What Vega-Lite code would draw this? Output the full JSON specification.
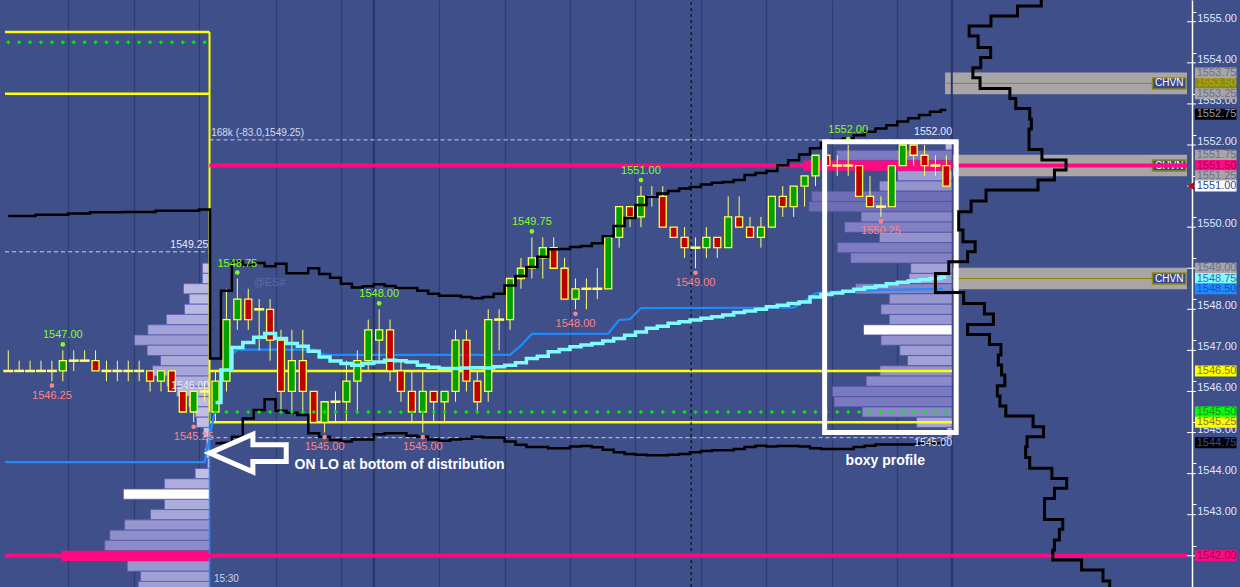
{
"$schema": "https://vega.github.io/schema/vega-lite/v6.json",
"width": 1192, "height": 587,
"autosize": {"type": "none"},
"padding": {"left": 0, "top": 0, "right": 48, "bottom": 0},
"background": "#3e4f8a",
"config": {"view": {"stroke": null, "fill": "#3e4f8a"}, "font": "Liberation Sans"},
"resolve": {"scale": {"color": "independent", "fill": "independent"}},
"datasets": {
"candles": [
{"i":0,"o":1546.5,"h":1547,"l":1546.5,"c":1546.5},
{"i":1,"o":1546.5,"h":1546.75,"l":1546.5,"c":1546.5},
{"i":2,"o":1546.5,"h":1546.75,"l":1546.5,"c":1546.5},
{"i":3,"o":1546.5,"h":1546.75,"l":1546.5,"c":1546.5},
{"i":4,"o":1546.5,"h":1546.75,"l":1546.25,"c":1546.5},
{"i":5,"o":1546.5,"h":1547,"l":1546.25,"c":1546.75},
{"i":6,"o":1546.75,"h":1547,"l":1546.5,"c":1546.75},
{"i":7,"o":1546.75,"h":1547,"l":1546.75,"c":1546.75},
{"i":8,"o":1546.75,"h":1547,"l":1546.5,"c":1546.5},
{"i":9,"o":1546.5,"h":1546.75,"l":1546.25,"c":1546.5},
{"i":10,"o":1546.5,"h":1546.75,"l":1546.25,"c":1546.5},
{"i":11,"o":1546.5,"h":1546.75,"l":1546.25,"c":1546.5},
{"i":12,"o":1546.5,"h":1546.75,"l":1546.25,"c":1546.5},
{"i":13,"o":1546.5,"h":1546.5,"l":1546,"c":1546.25},
{"i":14,"o":1546.25,"h":1546.5,"l":1546,"c":1546.5},
{"i":15,"o":1546.5,"h":1546.5,"l":1546,"c":1546},
{"i":16,"o":1546,"h":1546,"l":1545.5,"c":1545.5},
{"i":17,"o":1545.5,"h":1546,"l":1545.25,"c":1546},
{"i":18,"o":1546,"h":1546.25,"l":1545.75,"c":1546},
{"i":19,"o":1545.5,"h":1546.5,"l":1545.25,"c":1546.25},
{"i":20,"o":1546.25,"h":1548.5,"l":1546,"c":1547.75},
{"i":21,"o":1547.75,"h":1548.75,"l":1547.5,"c":1548.25},
{"i":22,"o":1548.25,"h":1548.5,"l":1547.5,"c":1547.75},
{"i":23,"o":1548,"h":1548.25,"l":1547,"c":1548},
{"i":24,"o":1548,"h":1548.25,"l":1546.75,"c":1547.25},
{"i":25,"o":1547.25,"h":1547.5,"l":1545.5,"c":1546},
{"i":26,"o":1546,"h":1547.5,"l":1545.5,"c":1546.75},
{"i":27,"o":1546.75,"h":1547.5,"l":1545.5,"c":1546},
{"i":28,"o":1546,"h":1546,"l":1545.25,"c":1545.25},
{"i":29,"o":1545.25,"h":1545.75,"l":1545,"c":1545.75},
{"i":30,"o":1545.75,"h":1546,"l":1545.25,"c":1545.75},
{"i":31,"o":1545.75,"h":1546.75,"l":1545.25,"c":1546.25},
{"i":32,"o":1546.25,"h":1547,"l":1545.5,"c":1546.75},
{"i":33,"o":1546.75,"h":1547.75,"l":1546.5,"c":1547.5},
{"i":34,"o":1547.25,"h":1548,"l":1546.75,"c":1547.5},
{"i":35,"o":1547.5,"h":1547.75,"l":1546.25,"c":1546.5},
{"i":36,"o":1546.5,"h":1546.75,"l":1545.75,"c":1546},
{"i":37,"o":1546,"h":1546.5,"l":1545.25,"c":1545.5},
{"i":38,"o":1545.5,"h":1546.5,"l":1545,"c":1546},
{"i":39,"o":1546,"h":1546,"l":1545.25,"c":1545.75},
{"i":40,"o":1545.75,"h":1546,"l":1545.25,"c":1546},
{"i":41,"o":1546,"h":1547.5,"l":1545.75,"c":1547.25},
{"i":42,"o":1547.25,"h":1547.5,"l":1546,"c":1546.25},
{"i":43,"o":1546.25,"h":1546.5,"l":1545.5,"c":1545.75},
{"i":44,"o":1546,"h":1548,"l":1545.75,"c":1547.75},
{"i":45,"o":1547.75,"h":1548,"l":1547,"c":1547.75},
{"i":46,"o":1547.75,"h":1548.75,"l":1547.5,"c":1548.75},
{"i":47,"o":1548.75,"h":1549.25,"l":1548.5,"c":1549},
{"i":48,"o":1549,"h":1549.75,"l":1548.75,"c":1549.25},
{"i":49,"o":1549.25,"h":1549.75,"l":1548.75,"c":1549.5},
{"i":50,"o":1549.5,"h":1549.75,"l":1549,"c":1549},
{"i":51,"o":1549,"h":1549.25,"l":1548.25,"c":1548.25},
{"i":52,"o":1548.25,"h":1548.75,"l":1548,"c":1548.5},
{"i":53,"o":1548.5,"h":1548.75,"l":1548,"c":1548.5},
{"i":54,"o":1548.5,"h":1549,"l":1548.25,"c":1548.5},
{"i":55,"o":1548.5,"h":1549.75,"l":1548.5,"c":1549.75},
{"i":56,"o":1549.75,"h":1550.5,"l":1549.5,"c":1550.5},
{"i":57,"o":1550.5,"h":1550.5,"l":1550,"c":1550.25},
{"i":58,"o":1550.25,"h":1551,"l":1550,"c":1550.75},
{"i":59,"o":1550.75,"h":1551,"l":1550.5,"c":1550.75},
{"i":60,"o":1550.75,"h":1551,"l":1550,"c":1550},
{"i":61,"o":1550,"h":1550,"l":1549.75,"c":1549.75},
{"i":62,"o":1549.75,"h":1550,"l":1549.25,"c":1549.5},
{"i":63,"o":1549.5,"h":1549.75,"l":1549,"c":1549.5},
{"i":64,"o":1549.5,"h":1550,"l":1549.25,"c":1549.75},
{"i":65,"o":1549.75,"h":1549.75,"l":1549.25,"c":1549.5},
{"i":66,"o":1549.5,"h":1550.75,"l":1549.5,"c":1550.25},
{"i":67,"o":1550.25,"h":1550.75,"l":1550,"c":1550},
{"i":68,"o":1550,"h":1550.25,"l":1549.75,"c":1549.75},
{"i":69,"o":1549.75,"h":1550.25,"l":1549.5,"c":1550},
{"i":70,"o":1550,"h":1550.75,"l":1550,"c":1550.75},
{"i":71,"o":1550.75,"h":1551,"l":1550.25,"c":1550.5},
{"i":72,"o":1550.5,"h":1551,"l":1550.25,"c":1551},
{"i":73,"o":1551,"h":1551.25,"l":1550.5,"c":1551.25},
{"i":74,"o":1551.25,"h":1551.75,"l":1551,"c":1551.75},
{"i":75,"o":1551.75,"h":1551.75,"l":1551.5,"c":1551.5},
{"i":76,"o":1551.5,"h":1551.75,"l":1551.25,"c":1551.5},
{"i":77,"o":1551.5,"h":1552,"l":1551.25,"c":1551.5},
{"i":78,"o":1551.5,"h":1551.5,"l":1550.75,"c":1550.75},
{"i":79,"o":1550.75,"h":1551.25,"l":1550.5,"c":1550.5},
{"i":80,"o":1550.5,"h":1550.75,"l":1550.25,"c":1550.5},
{"i":81,"o":1550.5,"h":1551.5,"l":1550.5,"c":1551.5},
{"i":82,"o":1551.5,"h":1552,"l":1551.5,"c":1552},
{"i":83,"o":1552,"h":1552,"l":1551.5,"c":1551.75},
{"i":84,"o":1551.75,"h":1552,"l":1551.25,"c":1551.5},
{"i":85,"o":1551.5,"h":1551.75,"l":1551.25,"c":1551.5},
{"i":86,"o":1551.5,"h":1551.75,"l":1551,"c":1551}
],
"chvn": [{"p":1553.5},{"p":1551.5},{"p":1548.75}],
"iticks": [{"p":1542},{"p":1543},{"p":1544},{"p":1545},{"p":1546},{"p":1547},{"p":1548},{"p":1549},{"p":1550},{"p":1551},{"p":1552},{"p":1553},{"p":1554},{"p":1555}],
"onprof": [{"p":1549,"i":17.79},{"p":1548.75,"i":17.79},{"p":1548.5,"i":16.06},{"p":1548.25,"i":16.58},{"p":1548,"i":16.15},{"p":1547.75,"i":14.49},{"p":1547.5,"i":12.79},{"p":1547.25,"i":11.58},{"p":1547,"i":12.73},{"p":1546.75,"i":13.95},{"p":1546.5,"i":13.22},{"p":1546.25,"i":14.52},{"p":1546,"i":15.43},{"p":1545.75,"i":16.52},{"p":1545.5,"i":17.13},{"p":1545.25,"i":17.25},{"p":1545,"i":17.88},{"p":1544.75,"i":18.15},{"p":1544.5,"i":18.04},{"p":1544.25,"i":18.25},{"p":1544,"i":17.13},{"p":1543.75,"i":14.31},{"p":1543.5,"i":10.55,"tag":"hi"},{"p":1543.25,"i":14.31},{"p":1543,"i":13.04},{"p":1542.75,"i":10.67},{"p":1542.5,"i":9.31},{"p":1542.25,"i":8.85},{"p":1542,"i":4.91,"tag":"poc"},{"p":1541.75,"i":10.91},{"p":1541.5,"i":12.13},{"p":1541.25,"i":11.91}],
"sprof": [{"p":1552,"i":85.9},{"p":1551.75,"i":75.91},{"p":1551.5,"i":72.88,"tag":"poc"},{"p":1551.25,"i":81.52},{"p":1551,"i":79.85},{"p":1550.75,"i":73.64},{"p":1550.5,"i":73.4},{"p":1550.25,"i":78.18},{"p":1550,"i":76.67},{"p":1549.75,"i":79.85},{"p":1549.5,"i":76},{"p":1549.25,"i":77.22},{"p":1549,"i":82.73},{"p":1548.75,"i":82.58},{"p":1548.5,"i":77.67},{"p":1548.25,"i":80.76},{"p":1548,"i":80},{"p":1547.75,"i":80.76},{"p":1547.5,"i":78.4,"tag":"hi"},{"p":1547.25,"i":80},{"p":1547,"i":81.73},{"p":1546.75,"i":82.43},{"p":1546.5,"i":79.91},{"p":1546.25,"i":78.64},{"p":1546,"i":75.55},{"p":1545.75,"i":75.7},{"p":1545.5,"i":78.27},{"p":1545.25,"i":83.27},{"p":1545,"i":86.06}],
"dash": [{"i":-0.3,"i2":18.45,"p":1549.4},{"i":18.45,"i2":86.52,"p":1552.125},{"i":18.45,"i2":86.52,"p":1544.875}],
"yel": [{"i":-0.3,"i2":18.45,"p":1554.75},{"i":-0.3,"i2":18.45,"p":1553.25},{"i":18.45,"i2":86.52,"p":1546.5},{"i":18.45,"i2":86.52,"p":1545.25}],
"pink": [{"i":18.45,"i2":108.06,"p":1551.5},{"i":-0.3,"i2":108.06,"p":1542}],
"vlines": [{"i":33.5},{"i":86.5}],
"upper": [{"i":0,"p":1550.27},{"i":1,"p":1550.27},{"i":2,"p":1550.27},{"i":3,"p":1550.3},{"i":4,"p":1550.3},{"i":5,"p":1550.3},{"i":6,"p":1550.33},{"i":7,"p":1550.33},{"i":8,"p":1550.36},{"i":9,"p":1550.36},{"i":10,"p":1550.36},{"i":11,"p":1550.37},{"i":12,"p":1550.37},{"i":13,"p":1550.37},{"i":14,"p":1550.4},{"i":15,"p":1550.4},{"i":16,"p":1550.4},{"i":17,"p":1550.4},{"i":18,"p":1550.43},{"i":19,"p":1546.8},{"i":20,"p":1548.45},{"i":21,"p":1549.16},{"i":22,"p":1549.08},{"i":23,"p":1549.13},{"i":24,"p":1549.05},{"i":25,"p":1549.11},{"i":26,"p":1548.88},{"i":27,"p":1548.88},{"i":28,"p":1549.0},{"i":29,"p":1548.86},{"i":30,"p":1548.77},{"i":31,"p":1548.62},{"i":32,"p":1548.53},{"i":33,"p":1548.56},{"i":34,"p":1548.61},{"i":35,"p":1548.57},{"i":36,"p":1548.52},{"i":37,"p":1548.52},{"i":38,"p":1548.45},{"i":39,"p":1548.38},{"i":40,"p":1548.33},{"i":41,"p":1548.33},{"i":42,"p":1548.3},{"i":43,"p":1548.27},{"i":44,"p":1548.3},{"i":45,"p":1548.38},{"i":46,"p":1548.58},{"i":47,"p":1548.81},{"i":48,"p":1549.03},{"i":49,"p":1549.28},{"i":50,"p":1549.46},{"i":51,"p":1549.47},{"i":52,"p":1549.52},{"i":53,"p":1549.54},{"i":54,"p":1549.61},{"i":55,"p":1549.78},{"i":56,"p":1550.03},{"i":57,"p":1550.22},{"i":58,"p":1550.54},{"i":59,"p":1550.74},{"i":60,"p":1550.82},{"i":61,"p":1550.88},{"i":62,"p":1550.94},{"i":63,"p":1550.98},{"i":64,"p":1551.04},{"i":65,"p":1551.08},{"i":66,"p":1551.1},{"i":67,"p":1551.15},{"i":68,"p":1551.27},{"i":69,"p":1551.32},{"i":70,"p":1551.37},{"i":71,"p":1551.51},{"i":72,"p":1551.63},{"i":73,"p":1551.77},{"i":74,"p":1551.92},{"i":75,"p":1552.05},{"i":76,"p":1552.12},{"i":77,"p":1552.16},{"i":78,"p":1552.24},{"i":79,"p":1552.32},{"i":80,"p":1552.4},{"i":81,"p":1552.48},{"i":82,"p":1552.57},{"i":83,"p":1552.65},{"i":84,"p":1552.73},{"i":85,"p":1552.81},{"i":86,"p":1552.85}],
"lower": [{"i":19,"p":1544.74},{"i":20,"p":1544.75},{"i":21,"p":1544.9},{"i":22,"p":1545.34},{"i":23,"p":1545.55},{"i":24,"p":1545.81},{"i":25,"p":1545.53},{"i":26,"p":1545.48},{"i":27,"p":1545.43},{"i":28,"p":1544.98},{"i":29,"p":1544.9},{"i":30,"p":1544.82},{"i":31,"p":1544.78},{"i":32,"p":1544.83},{"i":33,"p":1544.83},{"i":34,"p":1544.96},{"i":35,"p":1544.98},{"i":36,"p":1544.98},{"i":37,"p":1544.92},{"i":38,"p":1544.9},{"i":39,"p":1544.83},{"i":40,"p":1544.8},{"i":41,"p":1544.83},{"i":42,"p":1544.85},{"i":43,"p":1544.9},{"i":44,"p":1544.88},{"i":45,"p":1544.88},{"i":46,"p":1544.78},{"i":47,"p":1544.7},{"i":48,"p":1544.65},{"i":49,"p":1544.65},{"i":50,"p":1544.62},{"i":51,"p":1544.62},{"i":52,"p":1544.66},{"i":53,"p":1544.67},{"i":54,"p":1544.64},{"i":55,"p":1544.58},{"i":56,"p":1544.52},{"i":57,"p":1544.48},{"i":58,"p":1544.46},{"i":59,"p":1544.45},{"i":60,"p":1544.45},{"i":61,"p":1544.46},{"i":62,"p":1544.48},{"i":63,"p":1544.52},{"i":64,"p":1544.55},{"i":65,"p":1544.57},{"i":66,"p":1544.57},{"i":67,"p":1544.6},{"i":68,"p":1544.65},{"i":69,"p":1544.68},{"i":70,"p":1544.66},{"i":71,"p":1544.67},{"i":72,"p":1544.67},{"i":73,"p":1544.66},{"i":74,"p":1544.62},{"i":75,"p":1544.6},{"i":76,"p":1544.6},{"i":77,"p":1544.6},{"i":78,"p":1544.65},{"i":79,"p":1544.68},{"i":80,"p":1544.71},{"i":81,"p":1544.71},{"i":82,"p":1544.71},{"i":83,"p":1544.71},{"i":84,"p":1544.74},{"i":85,"p":1544.74},{"i":86,"p":1544.76}],
"blue": [{"i":-0.3,"p":1544.28},{"i":18,"p":1544.28},{"i":19,"p":1545.6},{"i":20,"p":1546.8},{"i":21,"p":1547.02},{"i":28,"p":1547.02},{"i":29,"p":1546.89},{"i":46,"p":1546.89},{"i":47,"p":1547.12},{"i":48,"p":1547.4},{"i":55,"p":1547.41},{"i":56,"p":1547.74},{"i":57,"p":1547.76},{"i":58,"p":1548.03},{"i":72,"p":1548.04},{"i":73,"p":1548.2},{"i":74,"p":1548.39},{"i":75,"p":1548.42},{"i":80,"p":1548.47},{"i":85.7,"p":1548.5}],
"cyan": [{"i":19,"p":1545.73},{"i":20,"p":1546.52},{"i":21,"p":1547.07},{"i":22,"p":1547.19},{"i":23,"p":1547.32},{"i":24,"p":1547.41},{"i":25,"p":1547.29},{"i":26,"p":1547.17},{"i":27,"p":1547.1},{"i":28,"p":1546.98},{"i":29,"p":1546.84},{"i":30,"p":1546.74},{"i":31,"p":1546.68},{"i":32,"p":1546.64},{"i":33,"p":1546.68},{"i":34,"p":1546.72},{"i":35,"p":1546.76},{"i":36,"p":1546.75},{"i":37,"p":1546.72},{"i":38,"p":1546.64},{"i":39,"p":1546.59},{"i":40,"p":1546.56},{"i":41,"p":1546.56},{"i":42,"p":1546.57},{"i":43,"p":1546.58},{"i":44,"p":1546.57},{"i":45,"p":1546.6},{"i":46,"p":1546.64},{"i":47,"p":1546.7},{"i":48,"p":1546.8},{"i":49,"p":1546.86},{"i":50,"p":1546.97},{"i":51,"p":1547.02},{"i":52,"p":1547.09},{"i":53,"p":1547.13},{"i":54,"p":1547.17},{"i":55,"p":1547.23},{"i":56,"p":1547.29},{"i":57,"p":1547.37},{"i":58,"p":1547.45},{"i":59,"p":1547.54},{"i":60,"p":1547.59},{"i":61,"p":1547.66},{"i":62,"p":1547.7},{"i":63,"p":1547.74},{"i":64,"p":1547.78},{"i":65,"p":1547.82},{"i":66,"p":1547.86},{"i":67,"p":1547.92},{"i":68,"p":1547.96},{"i":69,"p":1548.0},{"i":70,"p":1548.06},{"i":71,"p":1548.1},{"i":72,"p":1548.14},{"i":73,"p":1548.18},{"i":74,"p":1548.3},{"i":75,"p":1548.36},{"i":76,"p":1548.4},{"i":77,"p":1548.44},{"i":78,"p":1548.49},{"i":79,"p":1548.53},{"i":80,"p":1548.57},{"i":81,"p":1548.62},{"i":82,"p":1548.66},{"i":83,"p":1548.69},{"i":84,"p":1548.72},{"i":85,"p":1548.75},{"i":86,"p":1548.78}],
"hi": [{"i":5,"p":1547},{"i":21,"p":1548.75},{"i":34,"p":1548},{"i":48,"p":1549.75},{"i":58,"p":1551},{"i":77,"p":1552}],
"lo": [{"i":4,"p":1546.25},{"i":17,"p":1545.25},{"i":29,"p":1545},{"i":38,"p":1545},{"i":52,"p":1548},{"i":63,"p":1549},{"i":80,"p":1550.25}],
"comp": [{"i":94.7,"p":1555.53},{"i":92.52,"p":1555.381},{"i":90.09,"p":1555.138},{"i":88.09,"p":1554.895},{"i":88.91,"p":1554.651},{"i":90.06,"p":1554.376},{"i":89.15,"p":1554.132},{"i":88.43,"p":1553.879},{"i":89.09,"p":1553.636},{"i":91.82,"p":1553.378},{"i":92.36,"p":1553.134},{"i":93.64,"p":1552.891},{"i":93.79,"p":1552.63},{"i":93.58,"p":1552.387},{"i":94.76,"p":1551.893},{"i":96.97,"p":1551.633},{"i":95.91,"p":1551.389},{"i":94.4,"p":1551.146},{"i":89.64,"p":1550.903},{"i":88.27,"p":1550.634},{"i":87.13,"p":1550.374},{"i":87.52,"p":1549.928},{"i":88.64,"p":1549.644},{"i":87.95,"p":1549.4},{"i":86.22,"p":1549.157},{"i":85.0,"p":1548.874},{"i":87.58,"p":1548.407},{"i":89.49,"p":1548.144},{"i":90.31,"p":1547.884},{"i":87.95,"p":1547.633},{"i":89.95,"p":1547.389},{"i":91.0,"p":1547.146},{"i":90.76,"p":1546.886},{"i":91.06,"p":1546.642},{"i":91.36,"p":1546.399},{"i":90.67,"p":1546.138},{"i":90.91,"p":1545.888},{"i":91.45,"p":1545.644},{"i":93.95,"p":1545.401},{"i":94.91,"p":1545.14},{"i":93.4,"p":1544.897},{"i":93.27,"p":1544.653},{"i":93.64,"p":1544.395},{"i":95.67,"p":1544.128},{"i":97.03,"p":1543.884},{"i":95.91,"p":1543.641},{"i":95.0,"p":1543.397},{"i":96.67,"p":1542.886},{"i":96.36,"p":1542.643},{"i":95.91,"p":1542.382},{"i":95.76,"p":1542.139},{"i":98.4,"p":1541.896},{"i":100.36,"p":1541.652},{"i":100.97,"p":1541.384},{"i":100.97,"p":1541.2}],
"notes": [
{"k":"big","i":26.25,"p":1544.22,"t":"ON LO at bottom of distribution"},
{"k":"big","i":76.76,"p":1544.31,"t":"boxy profile"},
{"k":"lvl","i":18.34,"p":1549.56,"t":"1549.25"},
{"k":"lvl","i":18.43,"p":1546.14,"t":"1546.00"},
{"k":"lvl","i":86.52,"p":1552.31,"t":"1552.00"},
{"k":"lvl","i":86.52,"p":1544.74,"t":"1545.00"},
{"k":"small","i":18.6,"p":1552.3,"t":"168k (-83.0,1549.25)"},
{"k":"faint","i":22.49,"p":1548.63,"t":"@ES#"},
{"k":"time","i":18.85,"p":1541.55,"t":"15:30"}
],
"box": [{"i":74.84,"i2":86.9,"p":1552.08,"p2":1545.0}],
"arrow": [{"i":21.97,"p":1544.5}],
"tags": [{"p":1553.75,"k":"zone"},{"p":1553.5,"k":"chvn"},{"p":1553.25,"k":"zone"},{"p":1552.75,"k":"onh"},{"p":1551.75,"k":"zone"},{"p":1551.5,"k":"poc"},{"p":1551.25,"k":"zone"},{"p":1551,"k":"last"},{"p":1549,"k":"zone"},{"p":1548.75,"k":"vwap"},{"p":1548.5,"k":"dpoc"},{"p":1546.5,"k":"ib"},{"p":1545.5,"k":"mid"},{"p":1545.25,"k":"ib"},{"p":1544.75,"k":"onl"},{"p":1542,"k":"poc"}]
},
"layer": [
{"data": {"name": "chvn"}, "mark": {"type": "rect", "fill": "#a9a5a6", "yOffset": -10.8, "y2Offset": 10.8},
 "encoding": {"x": {"datum": 85.88}, "x2": {"datum": 108.06}, "y": {"field": "p", "type": "quantitative"}, "y2": {"field": "p"}}},
{"data": {"name": "chvn"}, "mark": {"type": "rule", "color": "#8a8a00", "strokeWidth": 1},
 "encoding": {"x": {"datum": 86.0}, "x2": {"datum": 108.06}, "y": {"field": "p", "type": "quantitative"}}},
{"data": {"name": "chvn"}, "mark": {"type": "rect", "fill": "#3b4a8c", "stroke": "#8a8a10", "strokeWidth": 1.5, "yOffset": -5.5, "y2Offset": 5.5},
 "encoding": {"x": {"datum": 104.9}, "x2": {"datum": 107.95}, "y": {"field": "p", "type": "quantitative"}, "y2": {"field": "p"}}},
{"data": {"name": "chvn"}, "mark": {"type": "text", "text": "CHVN", "color": "#ffffff", "fontSize": 10, "align": "center", "baseline": "middle"},
 "encoding": {"x": {"datum": 106.43}, "y": {"field": "p", "type": "quantitative"}}},
{"data": {"name": "vlines"}, "mark": {"type": "rule", "color": "#2a366a", "strokeWidth": 2},
 "encoding": {"x": {"field": "i", "type": "quantitative"}}},
{"data": {"name": "onprof"}, "transform": [{"filter": "!isValid(datum.tag)"}],
 "mark": {"type": "rect", "stroke": "#5c5cae", "strokeWidth": 0.8, "yOffset": -5.1, "y2Offset": 5.1},
 "encoding": {"x": {"field": "i", "type": "quantitative"}, "x2": {"datum": 18.45}, "y": {"field": "p", "type": "quantitative"}, "y2": {"field": "p"},
  "color": {"field": "i", "type": "quantitative", "scale": {"domain": [5, 18.3], "range": ["#7474bc", "#c6c6ea"]}, "legend": null}}},
{"data": {"name": "onprof"}, "transform": [{"filter": "datum.tag === 'hi'"}],
 "mark": {"type": "rect", "fill": "#ffffff", "stroke": "#5c5cae", "strokeWidth": 0.8, "yOffset": -5.1, "y2Offset": 5.1},
 "encoding": {"x": {"field": "i", "type": "quantitative"}, "x2": {"datum": 18.45}, "y": {"field": "p", "type": "quantitative"}, "y2": {"field": "p"}}},
{"data": {"name": "onprof"}, "transform": [{"filter": "datum.tag === 'poc'"}],
 "mark": {"type": "rect", "fill": "#ff0a80", "yOffset": -5.1, "y2Offset": 5.1},
 "encoding": {"x": {"field": "i", "type": "quantitative"}, "x2": {"datum": 18.45}, "y": {"field": "p", "type": "quantitative"}, "y2": {"field": "p"}}},
{"data": {"name": "sprof"}, "transform": [{"filter": "!isValid(datum.tag)"}],
 "mark": {"type": "rect", "stroke": "#5252aa", "strokeWidth": 0.8, "yOffset": -5.1, "y2Offset": 5.1},
 "encoding": {"x": {"field": "i", "type": "quantitative"}, "x2": {"datum": 86.52}, "y": {"field": "p", "type": "quantitative"}, "y2": {"field": "p"},
  "color": {"field": "i", "type": "quantitative", "scale": {"domain": [72.9, 86.1], "range": ["#6a6ab4", "#b8b8e4"]}, "legend": null}}},
{"data": {"name": "sprof"}, "transform": [{"filter": "datum.tag === 'hi'"}],
 "mark": {"type": "rect", "fill": "#ffffff", "stroke": "#5252aa", "strokeWidth": 0.8, "yOffset": -5.1, "y2Offset": 5.1},
 "encoding": {"x": {"field": "i", "type": "quantitative"}, "x2": {"datum": 86.52}, "y": {"field": "p", "type": "quantitative"}, "y2": {"field": "p"}}},
{"data": {"name": "sprof"}, "transform": [{"filter": "datum.tag === 'poc'"}],
 "mark": {"type": "rect", "fill": "#ff0a80", "yOffset": -5.1, "y2Offset": 5.1},
 "encoding": {"x": {"field": "i", "type": "quantitative"}, "x2": {"datum": 86.52}, "y": {"field": "p", "type": "quantitative"}, "y2": {"field": "p"}}},
{"data": {"name": "dash"}, "mark": {"type": "rule", "color": "#c9cbe6", "strokeWidth": 1, "strokeDash": [4, 3]},
 "encoding": {"x": {"field": "i", "type": "quantitative"}, "x2": {"field": "i2"}, "y": {"field": "p", "type": "quantitative"}}},
{"data": {"name": "yel"}, "mark": {"type": "rule", "color": "#ffff00", "strokeWidth": 2.5},
 "encoding": {"x": {"field": "i", "type": "quantitative"}, "x2": {"field": "i2"}, "y": {"field": "p", "type": "quantitative"}}},
{"data": {"name": "arrow"}, "mark": {"type": "rule", "color": "#ffff00", "strokeWidth": 2},
 "encoding": {"x": {"datum": 18.45}, "y": {"datum": 1554.75}, "y2": {"datum": 1545.25}}},
{"data": {"name": "arrow"}, "mark": {"type": "rule", "color": "#1e8cff", "strokeWidth": 1.5},
 "encoding": {"x": {"datum": 18.45}, "y": {"datum": 1541.24}, "y2": {"datum": 1545.5}}},
{"data": {"name": "arrow"}, "mark": {"type": "rule", "color": "#000000", "strokeWidth": 1, "strokeDash": [3, 3]},
 "encoding": {"x": {"datum": 62.6}, "y": {"datum": 1541.24}, "y2": {"datum": 1555.53}}},
{"data": {"name": "pink"}, "mark": {"type": "rule", "color": "#ff0a80", "strokeWidth": 4},
 "encoding": {"x": {"field": "i", "type": "quantitative"}, "x2": {"field": "i2"}, "y": {"field": "p", "type": "quantitative"}}},
{"data": {"name": "blue"}, "mark": {"type": "line", "color": "#1e8cff", "strokeWidth": 2.2},
 "encoding": {"x": {"field": "i", "type": "quantitative"}, "y": {"field": "p", "type": "quantitative"}}},
{"data": {"name": "candles"}, "mark": {"type": "rule", "color": "#ffff70", "strokeWidth": 1},
 "encoding": {
  "x": {"field": "i", "type": "quantitative", "title": null, "scale": {"domain": [-0.3, 108.06], "nice": false, "zero": false},
   "axis": {"orient": "bottom", "values": [5.5, 11.5, 17.5, 24.5, 30.5, 33.5, 39.5, 45.5, 51.5, 57.5, 63.5, 69.5, 75.5, 81.5, 86.5], "labels": false, "ticks": false, "domain": false, "grid": true, "gridColor": "#2f3c72", "gridWidth": 1.2, "title": null}},
  "y": {"field": "l", "type": "quantitative", "title": null, "scale": {"domain": [1541.24, 1555.53], "nice": false, "zero": false},
   "axis": {"orient": "right", "title": null,
    "values": [1541.25,1541.5,1541.75,1542,1542.25,1542.5,1542.75,1543,1543.25,1543.5,1543.75,1544,1544.25,1544.5,1544.75,1545,1545.25,1545.5,1545.75,1546,1546.25,1546.5,1546.75,1547,1547.25,1547.5,1547.75,1548,1548.25,1548.5,1548.75,1549,1549.25,1549.5,1549.75,1550,1550.25,1550.5,1550.75,1551,1551.25,1551.5,1551.75,1552,1552.25,1552.5,1552.75,1553,1553.25,1553.5,1553.75,1554,1554.25,1554.5,1554.75,1555,1555.25,1555.5],
    "labels": false,
    "tickSize": 4,
    "tickColor": "#ffffff", "tickWidth": 1, "domainColor": "#ffffff", "domainWidth": 1.5,
    "grid": true, "gridColor": "#2f3c72", "gridWidth": 1.2,
    "gridOpacity": {"condition": {"test": "datum.value % 1 !== 0", "value": 0}, "value": 1}}},
  "y2": {"field": "h"}}},
{"data": {"name": "candles"}, "transform": [{"filter": "datum.o !== datum.c"}],
 "mark": {"type": "bar", "size": 7, "stroke": "#ffff50", "strokeWidth": 1.3},
 "encoding": {"x": {"field": "i", "type": "quantitative"}, "y": {"field": "o", "type": "quantitative"}, "y2": {"field": "c"},
  "fill": {"condition": {"test": "datum.c > datum.o", "value": "#00a000"}, "value": "#c00000"}}},
{"data": {"name": "candles"}, "transform": [{"filter": "datum.o === datum.c"}],
 "mark": {"type": "tick", "orient": "horizontal", "size": 10, "thickness": 2.5, "color": "#ffff70", "opacity": 1},
 "encoding": {"x": {"field": "i", "type": "quantitative"}, "y": {"field": "o", "type": "quantitative"}}},
{"data": {"name": "upper"}, "mark": {"type": "line", "interpolate": "step", "color": "#000000", "strokeWidth": 2.5},
 "encoding": {"x": {"field": "i", "type": "quantitative"}, "y": {"field": "p", "type": "quantitative"}}},
{"data": {"name": "lower"}, "mark": {"type": "line", "interpolate": "step", "color": "#000000", "strokeWidth": 2.5},
 "encoding": {"x": {"field": "i", "type": "quantitative"}, "y": {"field": "p", "type": "quantitative"}}},
{"data": {"name": "cyan"}, "mark": {"type": "line", "interpolate": "step", "color": "#7ffcff", "strokeWidth": 3.5},
 "encoding": {"x": {"field": "i", "type": "quantitative"}, "y": {"field": "p", "type": "quantitative"}}},
{"data": {"name": "candles"}, "transform": [{"filter": "datum.i <= 18"}],
 "mark": {"type": "point", "shape": "cross", "filled": true, "size": 14, "color": "#00f000", "opacity": 1},
 "encoding": {"x": {"field": "i", "type": "quantitative"}, "y": {"datum": 1554.5}}},
{"data": {"name": "candles"}, "transform": [{"filter": "datum.i >= 19"}],
 "mark": {"type": "point", "shape": "cross", "filled": true, "size": 14, "color": "#00f000", "opacity": 1},
 "encoding": {"x": {"field": "i", "type": "quantitative"}, "y": {"datum": 1545.5}}},
{"data": {"name": "hi"}, "mark": {"type": "point", "shape": "circle", "filled": true, "size": 22, "color": "#80ff20", "opacity": 1, "yOffset": -6},
 "encoding": {"x": {"field": "i", "type": "quantitative"}, "y": {"field": "p", "type": "quantitative"}}},
{"data": {"name": "hi"}, "mark": {"type": "text", "color": "#80ff20", "fontSize": 11, "align": "center", "baseline": "middle", "dy": -15},
 "encoding": {"x": {"field": "i", "type": "quantitative"}, "y": {"field": "p", "type": "quantitative"}, "text": {"field": "p", "type": "quantitative", "format": ".2f"}}},
{"data": {"name": "lo"}, "mark": {"type": "point", "shape": "circle", "filled": true, "size": 22, "color": "#ff8282", "opacity": 1, "yOffset": 4.5},
 "encoding": {"x": {"field": "i", "type": "quantitative"}, "y": {"field": "p", "type": "quantitative"}}},
{"data": {"name": "lo"}, "mark": {"type": "text", "color": "#ff8282", "fontSize": 11, "align": "center", "baseline": "middle", "dy": 14.5},
 "encoding": {"x": {"field": "i", "type": "quantitative"}, "y": {"field": "p", "type": "quantitative"}, "text": {"field": "p", "type": "quantitative", "format": ".2f"}}},
{"data": {"name": "notes"}, "transform": [{"filter": "datum.k === 'lvl'"}],
 "mark": {"type": "text", "color": "#e6e9ff", "fontSize": 10.5, "align": "right", "baseline": "middle"},
 "encoding": {"x": {"field": "i", "type": "quantitative"}, "y": {"field": "p", "type": "quantitative"}, "text": {"field": "t"}}},
{"data": {"name": "notes"}, "transform": [{"filter": "datum.k === 'small'"}],
 "mark": {"type": "text", "color": "#d5dcf2", "fontSize": 10, "align": "left", "baseline": "middle"},
 "encoding": {"x": {"field": "i", "type": "quantitative"}, "y": {"field": "p", "type": "quantitative"}, "text": {"field": "t"}}},
{"data": {"name": "notes"}, "transform": [{"filter": "datum.k === 'faint'"}],
 "mark": {"type": "text", "color": "#5d6ca6", "fontSize": 11, "align": "left", "baseline": "middle"},
 "encoding": {"x": {"field": "i", "type": "quantitative"}, "y": {"field": "p", "type": "quantitative"}, "text": {"field": "t"}}},
{"data": {"name": "notes"}, "transform": [{"filter": "datum.k === 'time'"}],
 "mark": {"type": "text", "color": "#c8d4f4", "fontSize": 10, "align": "left", "baseline": "top"},
 "encoding": {"x": {"field": "i", "type": "quantitative"}, "y": {"field": "p", "type": "quantitative"}, "text": {"field": "t"}}},
{"data": {"name": "box"}, "mark": {"type": "rect", "filled": false, "color": "#ffffff", "strokeWidth": 5},
 "encoding": {"x": {"field": "i", "type": "quantitative"}, "x2": {"field": "i2"}, "y": {"field": "p", "type": "quantitative"}, "y2": {"field": "p2"}}},
{"data": {"name": "arrow"}, "mark": {"type": "point", "shape": "M -1 0 L 0.13 -0.49 L 0.13 -0.22 L 1 -0.22 L 1 0.22 L 0.13 0.22 L 0.13 0.49 Z", "size": 5868, "filled": false, "color": "#ffffff", "strokeWidth": 5, "opacity": 1},
 "encoding": {"x": {"field": "i", "type": "quantitative"}, "y": {"field": "p", "type": "quantitative"}}},
{"data": {"name": "notes"}, "transform": [{"filter": "datum.k === 'big'"}],
 "mark": {"type": "text", "color": "#ffffff", "fontSize": 14, "fontWeight": "bold", "align": "left", "baseline": "middle"},
 "encoding": {"x": {"field": "i", "type": "quantitative"}, "y": {"field": "p", "type": "quantitative"}, "text": {"field": "t"}}},
{"data": {"name": "comp"}, "mark": {"type": "line", "interpolate": "step-before", "color": "#000000", "strokeWidth": 3, "strokeJoin": "miter"},
 "encoding": {"x": {"field": "i", "type": "quantitative"}, "y": {"field": "p", "type": "quantitative"}, "order": {"field": "p", "sort": "descending"}}},
{"data": {"name": "iticks"}, "mark": {"type": "rule", "color": "#ffffff", "strokeWidth": 1},
 "encoding": {"x": {"datum": 108.06}, "x2": {"datum": 108.88}, "y": {"field": "p", "type": "quantitative"}}},
{"data": {"name": "iticks"}, "transform": [{"filter": "indexof([1542, 1549, 1551], datum.p) < 0"}],
 "mark": {"type": "text", "color": "#dfe6ff", "fontSize": 11, "align": "left", "baseline": "alphabetic"},
 "encoding": {"x": {"datum": 108.99}, "y": {"field": "p", "type": "quantitative"}, "text": {"field": "p", "type": "quantitative", "format": ".2f"}}},
{"data": {"name": "tags"}, "mark": {"type": "rect", "yOffset": -5.5, "y2Offset": 5.5},
 "encoding": {"x": {"datum": 108.79}, "x2": {"datum": 112.6}, "y": {"field": "p", "type": "quantitative"}, "y2": {"field": "p"},
  "fill": {"field": "k", "type": "nominal", "legend": null, "scale": {"domain": ["zone","chvn","onh","poc","last","vwap","dpoc","ib","mid","onl"], "range": ["#a9a5a6","#8c8c0c","#000000","#ff0a80","#ffffff","#80ffff","#1e8cff","#ffff00","#00ff00","#000000"]}}}},
{"data": {"name": "tags"}, "mark": {"type": "text", "fontSize": 11, "align": "left", "baseline": "middle"},
 "encoding": {"x": {"datum": 108.95}, "y": {"field": "p", "type": "quantitative"}, "text": {"field": "p", "type": "quantitative", "format": ".2f"},
  "color": {"field": "k", "type": "nominal", "legend": null, "scale": {"domain": ["zone","chvn","onh","poc","last","vwap","dpoc","ib","mid","onl"], "range": ["#6c7092","#b5a43c","#9a9aae","#a8005a","#2c4aa0","#4a62b0","#2050b8","#7a7a24","#2a8a2a","#3c4a90"]}}}},
{"data": {"name": "arrow"}, "mark": {"type": "point", "shape": "triangle-left", "filled": true, "size": 60, "color": "#d00000", "opacity": 1},
 "encoding": {"x": {"datum": 108.42}, "y": {"datum": 1551.0}}}
]
}
